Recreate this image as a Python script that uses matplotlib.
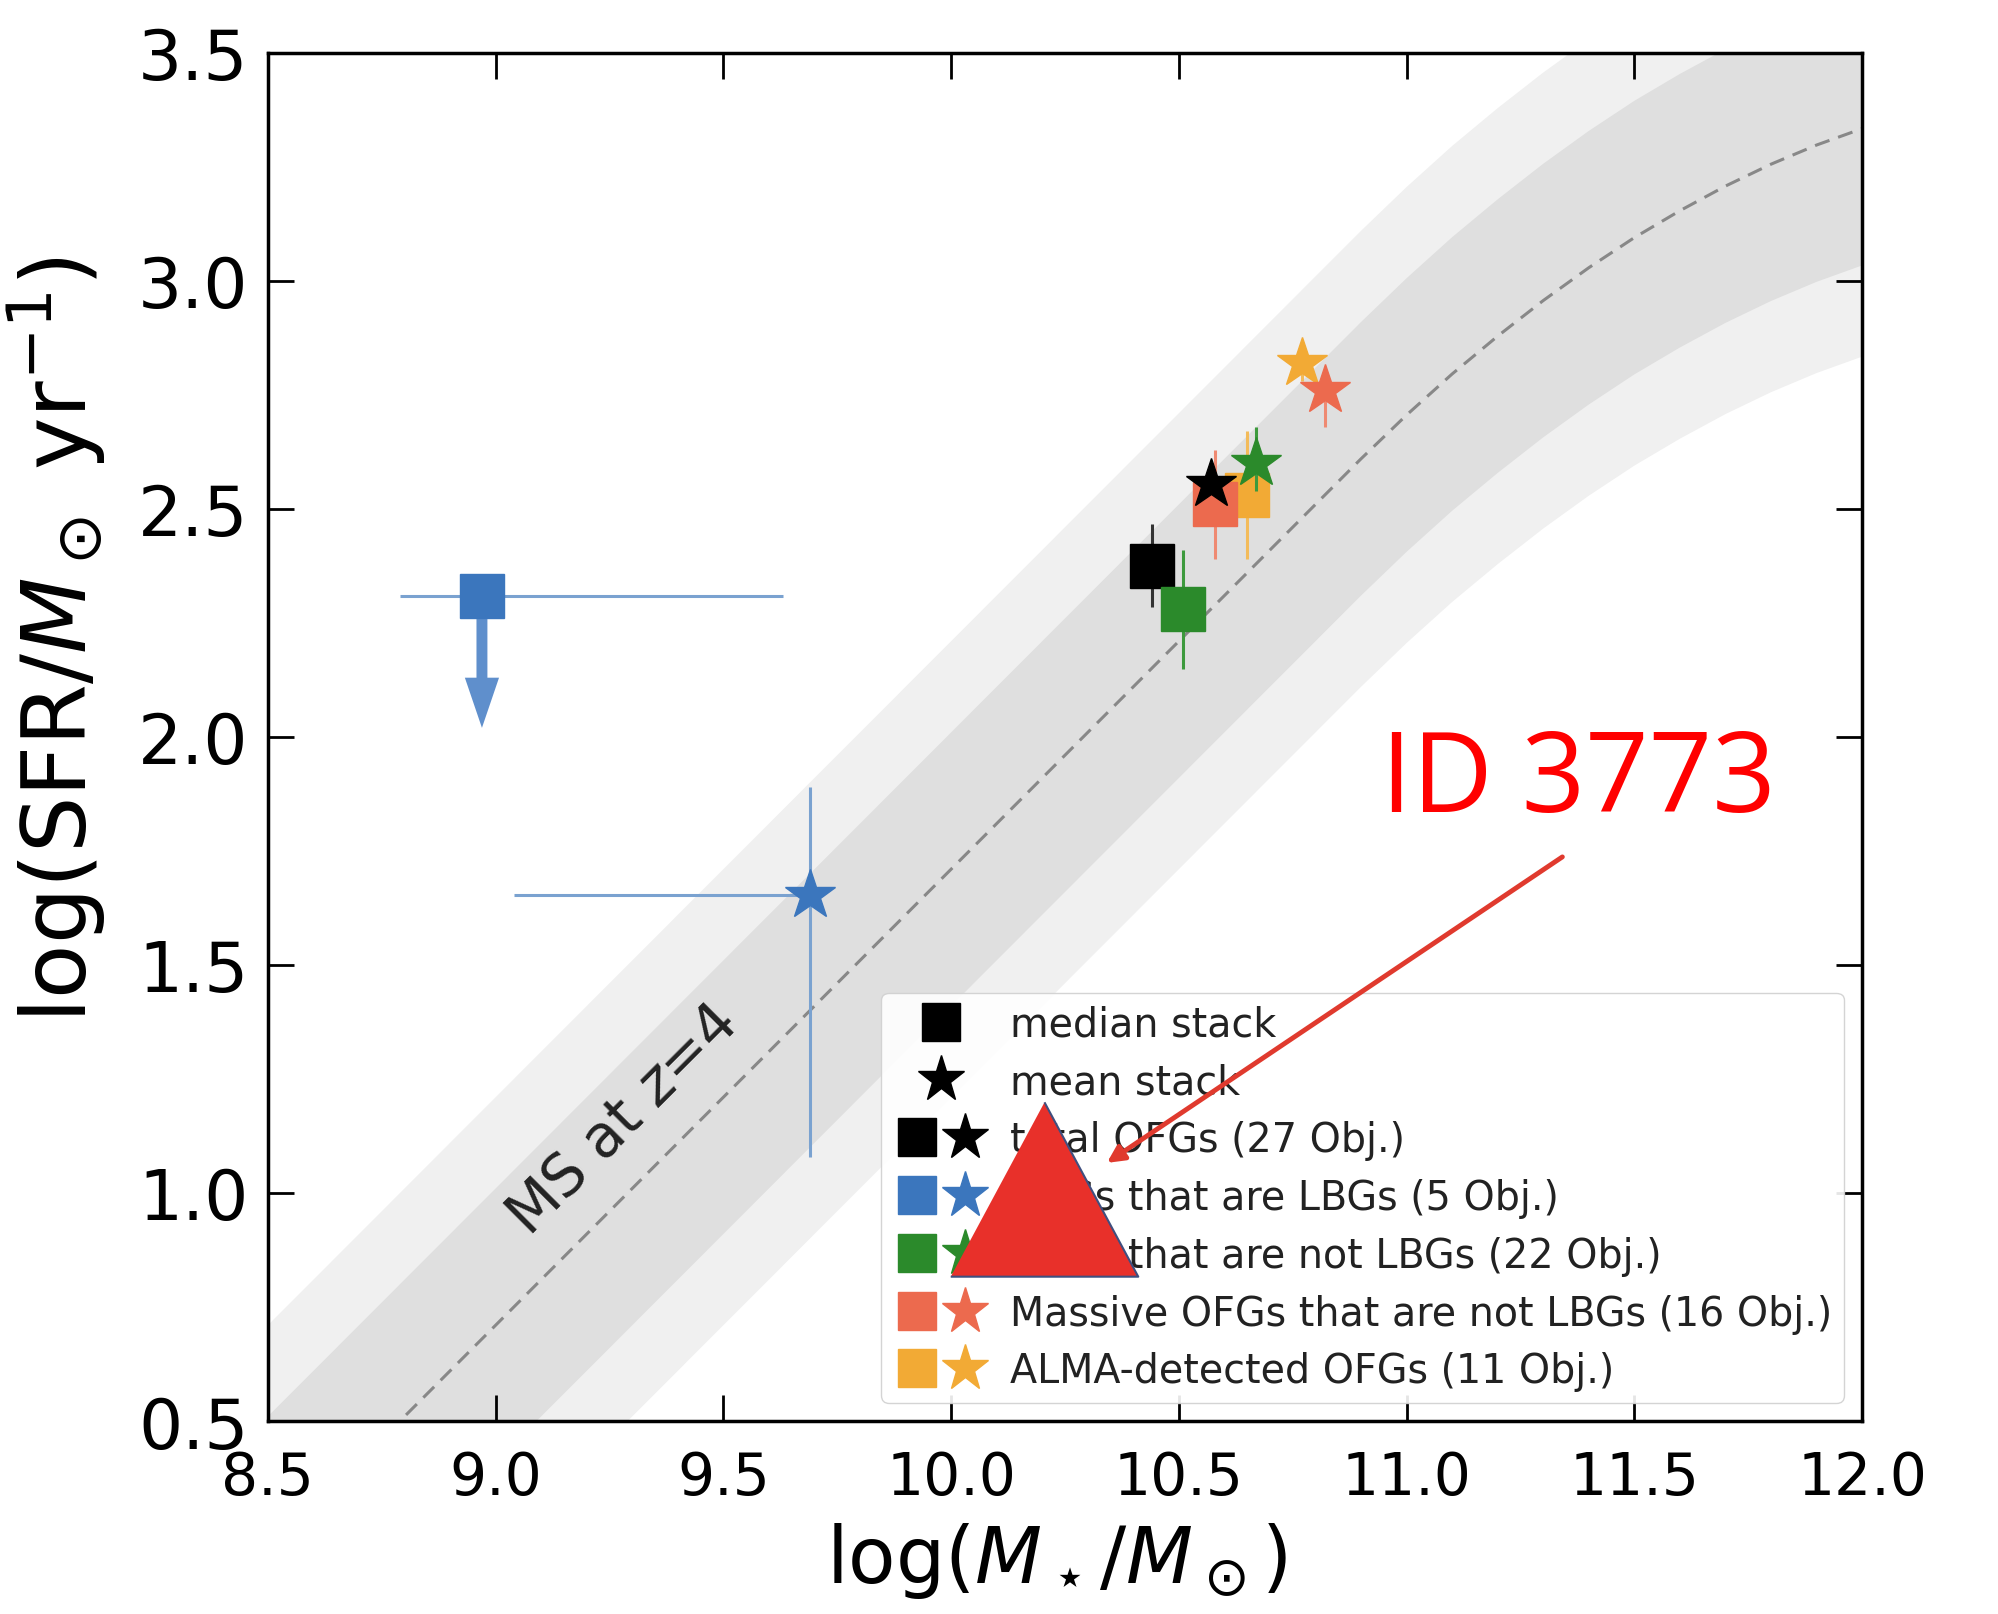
import matplotlib
matplotlib.use("Agg")
import matplotlib.pyplot as plt
from matplotlib.lines import Line2D
from matplotlib.legend_handler import HandlerTuple


# main sequence at z=4
ms_mass = [8.5, 9.0, 9.5, 10.0, 10.5, 10.9, 11.0, 11.1, 11.2, 11.3, 11.4, 11.5, 11.6, 11.7, 11.8, 11.9, 12.0]
ms_sfr = [0.21, 0.71, 1.21, 1.71, 2.21, 2.61, 2.706, 2.796, 2.879, 2.957, 3.029, 3.095, 3.154, 3.208, 3.256, 3.298, 3.334]
ms_scatter_inner = 0.3
ms_scatter_outer = 0.5

# stacked samples
groups = ["total OFGs (27 Obj.)", "OFGs that are LBGs (5 Obj.)", "OFGs that are not LBGs (22 Obj.)",
          "Massive OFGs that are not LBGs (16 Obj.)", "ALMA-detected OFGs (11 Obj.)"]
colors = ["black", "#3b76bd", "#2b8a2b", "#ec6a4e", "#f2aa35"]
err_colors = ["#333333", "#7aa2d0", "#3d9a3d", "#ef8a72", "#f3bb5a"]

median_mass = [10.44, 8.97, 10.51, 10.58, 10.65]
median_sfr = [2.376, 2.31, 2.28, 2.51, 2.53]
median_sfr_err = [0.09, 0.0, 0.13, 0.12, 0.14]
median_mass_err_lo = [0.0, 0.18, 0.0, 0.0, 0.0]
median_mass_err_hi = [0.0, 0.66, 0.0, 0.0, 0.0]
median_upper_limit = [False, True, False, False, False]
limit_arrow = 0.29

mean_mass = [10.57, 9.69, 10.67, 10.82, 10.77]
mean_sfr = [2.555, 1.653, 2.60, 2.76, 2.82]
mean_sfr_err_lo = [0.0, 0.573, 0.06, 0.08, 0.04]
mean_sfr_err_hi = [0.0, 0.237, 0.08, 0.03, 0.03]
mean_mass_err_lo = [0.0, 0.65, 0.0, 0.0, 0.0]
mean_mass_err_hi = [0.0, 0.0, 0.0, 0.0, 0.0]

# drawing order (orange under salmon)
draw_order = [0, 1, 2, 4, 3]

# highlighted object
id_label = "ID 3773"
id_mass = 10.205
id_sfr = 1.008

plt.rcParams["font.family"] = ["DejaVu Sans"]
plt.rcParams["mathtext.fontset"] = "dejavusans"

fig = plt.figure(figsize=(19.99, 16.15), dpi=100)
ax = fig.add_axes([0.134, 0.1195, 0.7975, 0.8471])

lo_out = [s - ms_scatter_outer for s in ms_sfr]
hi_out = [s + ms_scatter_outer for s in ms_sfr]
lo_in = [s - ms_scatter_inner for s in ms_sfr]
hi_in = [s + ms_scatter_inner for s in ms_sfr]
ax.fill_between(ms_mass, lo_out, hi_out, color="#f0f0f0", lw=0, zorder=0)
ax.fill_between(ms_mass, lo_in, hi_in, color="#dfdfdf", lw=0, zorder=0.5)
ax.plot(ms_mass, ms_sfr, ls=(0, (5, 3)), color="#888888", lw=2.2, zorder=1)
ax.text(9.28, 1.16, "MS at $z$=4", rotation=45, ha="center", va="center",
        fontsize=42, color="#222222", zorder=1.5)

for k, i in enumerate(draw_order):
    xerr = [[median_mass_err_lo[i]], [median_mass_err_hi[i]]]
    yerr = None if median_upper_limit[i] else [[median_sfr_err[i]], [median_sfr_err[i]]]
    ax.errorbar(median_mass[i], median_sfr[i], xerr=xerr, yerr=yerr, fmt="none",
                ecolor=err_colors[i], elinewidth=2.2, capsize=0, zorder=2 + k * 0.1)
    if median_upper_limit[i]:
        ax.arrow(median_mass[i], median_sfr[i], 0, -limit_arrow, width=0.024,
                 head_width=0.075, head_length=0.11, length_includes_head=True,
                 color="#5f8fcc", lw=0, zorder=2 + k * 0.1)
    ax.plot(median_mass[i], median_sfr[i], ls="none", marker="s", ms=32,
            color=colors[i], zorder=2.05 + k * 0.1)

for k, i in enumerate(draw_order):
    xerr = [[mean_mass_err_lo[i]], [mean_mass_err_hi[i]]]
    yerr = [[mean_sfr_err_lo[i]], [mean_sfr_err_hi[i]]]
    ax.errorbar(mean_mass[i], mean_sfr[i], xerr=xerr, yerr=yerr, fmt="none",
                ecolor=err_colors[i], elinewidth=2.2, capsize=0, zorder=3 + k * 0.1)
    ax.plot(mean_mass[i], mean_sfr[i], ls="none", marker="*", ms=38,
            color=colors[i], zorder=3.05 + k * 0.1)

# legend with proxy handles
sq = lambda c: Line2D([], [], ls="none", marker="s", ms=28, color=c)
st = lambda c: Line2D([], [], ls="none", marker="*", ms=35, color=c)
handles = [sq("black"), st("black")] + [(sq(c), st(c)) for c in colors]
labels = ["median stack", "mean stack"] + groups
leg = ax.legend(handles, labels, loc="lower right", fontsize=28.5,
                handler_map={tuple: HandlerTuple(ndivide=None, pad=0)},
                handlelength=2.4, handletextpad=0.55, borderpad=0.3,
                labelspacing=0.45, borderaxespad=0.45, framealpha=0.9,
                edgecolor="#d0d0d0", fancybox=True)
for t in leg.get_texts():
    t.set_color("#222222")

# highlighted object drawn on top of the legend
tri = [(-1.0, -0.93), (1.0, -0.93), (0.0, 0.93)]
ax.plot(id_mass, id_sfr, ls="none", marker=tri, ms=135, color="#e8302a",
        mec="#3f4f7f", mew=1.5, zorder=10)
ax.annotate("", xy=(10.342, 1.066), xytext=(11.342, 1.737),
            arrowprops=dict(arrowstyle="-|>", color="#e03a2e", lw=3.5,
                            mutation_scale=25, shrinkA=0, shrinkB=0),
            zorder=11)
ax.text(10.944, 1.838, id_label, color="#ff0000", fontsize=80,
        family=["Open Sans", "DejaVu Sans"], ha="left", va="baseline", zorder=11)

ax.set_xlim(8.5, 12.0)
ax.set_ylim(0.5, 3.5)
ax.set_xticks([8.5, 9.0, 9.5, 10.0, 10.5, 11.0, 11.5, 12.0])
ax.set_yticks([0.5, 1.0, 1.5, 2.0, 2.5, 3.0, 3.5])
ax.tick_params(direction="in", length=19, width=2, top=True, right=True)
ax.tick_params(axis="x", labelsize=42, pad=20)
ax.tick_params(axis="y", labelsize=50, pad=14)
for sp in ax.spines.values():
    sp.set_linewidth(2.5)

ax.set_xlabel(r"log($M_\star/M_\odot$)", fontsize=56)
ax.set_ylabel(r"log(SFR/$M_\odot$ yr$^{-1}$)", fontsize=64)
ax.xaxis.set_label_coords(0.495, -0.072)
ax.yaxis.set_label_coords(-0.10, 0.572)

fig.savefig("out.png", dpi=100)
